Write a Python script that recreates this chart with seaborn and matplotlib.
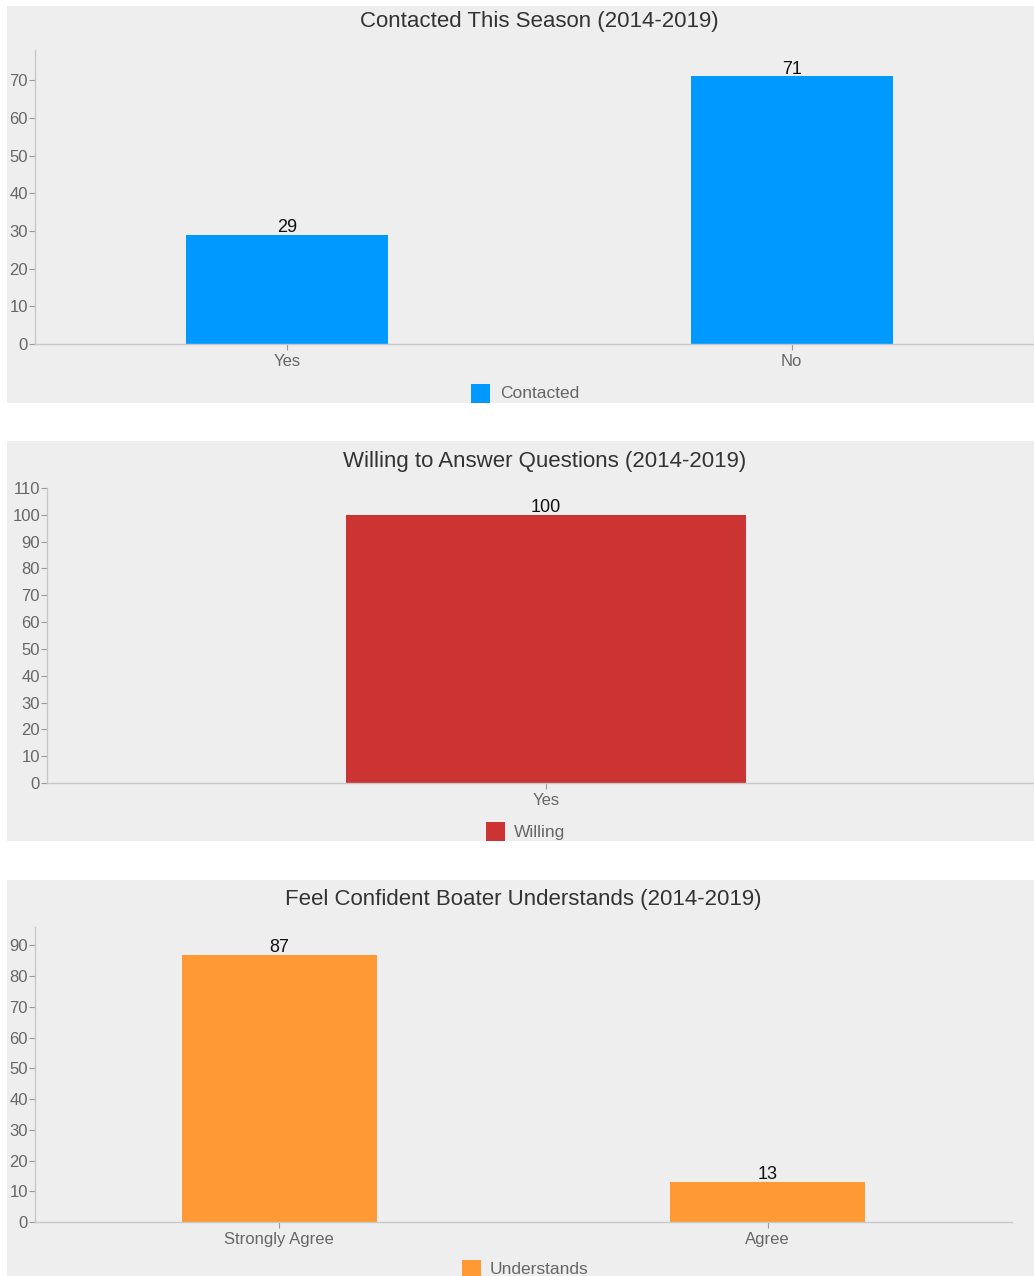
import matplotlib
matplotlib.use("Agg")
import matplotlib.pyplot as plt
import seaborn as sns
from matplotlib.patches import Rectangle

# ---- data ----
contact_categories = ["Yes", "No"]
contact_values = [29, 71]
willing_categories = ["Yes"]
willing_values = [100]
understand_categories = ["Strongly Agree", "Agree"]
understand_values = [87, 13]

titles = ["Contacted This Season (2014-2019)",
          "Willing to Answer Questions (2014-2019)",
          "Feel Confident Boater Understands (2014-2019)"]
legend_labels = ["Contacted", "Willing", "Understands"]
colors = ["#0099ff", "#cc3333", "#ff9933"]

sns.set_theme(style="white")
plt.rcParams['font.family'] = ['Liberation Sans', 'DejaVu Sans']

W, H = 1034, 1276
fig = plt.figure(figsize=(W / 100, H / 100), dpi=100)
fig.patch.set_facecolor("white")
BG = "#eeeeee"

def fx(x):
    return x / W

def fy(y):
    return 1 - y / H

def px_rect(x0, y0, x1, y1):
    return [fx(x0), fy(y1), (x1 - x0) / W, (y1 - y0) / H]

panels = [
    dict(bg=(7, 6, 1034, 403), ax=(35, 50, 1044, 344), ylim=78, ticks=range(0, 71, 10),
         cats=contact_categories, vals=contact_values, title_xy=(539, 22),
         leg=(471, 384, 500), bw=0.4),
    dict(bg=(7, 441, 1034, 841), ax=(47, 488, 1045, 783), ylim=110, ticks=range(0, 111, 10),
         cats=willing_categories, vals=willing_values, title_xy=(545, 462),
         leg=(486, 822, 514), bw=0.4),
    dict(bg=(7, 880, 1034, 1276), ax=(35, 927, 1012, 1222), ylim=96, ticks=range(0, 91, 10),
         cats=understand_categories, vals=understand_values, title_xy=(523, 900),
         leg=(462, 1260, 490), bw=0.4),
]

for i, p in enumerate(panels):
    bx0, by0, bx1, by1 = p["bg"]
    fig.patches.append(Rectangle((fx(bx0), fy(by1)), (bx1 - bx0) / W, (by1 - by0) / H,
                                 transform=fig.transFigure, facecolor=BG,
                                 edgecolor="none", zorder=-5))
    ax = fig.add_axes(px_rect(*p["ax"]))
    ax.set_zorder(1)
    ax.set_facecolor("none")
    sns.barplot(x=p["cats"], y=p["vals"], color=colors[i], saturation=1,
                width=p["bw"], ax=ax, edgecolor="none")
    ax.set_ylim(0, p["ylim"])
    ax.set_xlim(-0.5, len(p["cats"]) - 0.5)
    ax.set_yticks(list(p["ticks"]))
    for s in ["top", "right"]:
        ax.spines[s].set_visible(False)
    for s in ["left", "bottom"]:
        ax.spines[s].set_color("#c8c8c8")
        ax.spines[s].set_linewidth(1)
    ax.tick_params(axis="both", colors="#999999", labelcolor="#666666",
                   labelsize=12, length=4, width=0.8, pad=1,
                   left=True, bottom=True)
    ax.tick_params(axis="x", pad=3)
    ax.set_xlabel("")
    ax.set_ylabel("")
    for c in ax.containers:
        ax.bar_label(c, labels=[str(v) for v in p["vals"]], fontsize=13,
                     color="#111111", padding=-1)
    tx, ty = p["title_xy"]
    fig.text(fx(tx), fy(ty), titles[i], ha="center", va="center",
             fontsize=16, color="#333333")
    lx, ly, ltx = p["leg"]
    fig.patches.append(Rectangle((fx(lx), fy(ly + 19)), 19 / W, 19 / H,
                                 transform=fig.transFigure, facecolor=colors[i],
                                 edgecolor="none", zorder=2))
    fig.text(fx(ltx), fy(ly + 10), legend_labels[i], ha="left", va="center",
             fontsize=12.5, color="#666666")

fig.savefig("out.png", dpi=100, facecolor="white")
